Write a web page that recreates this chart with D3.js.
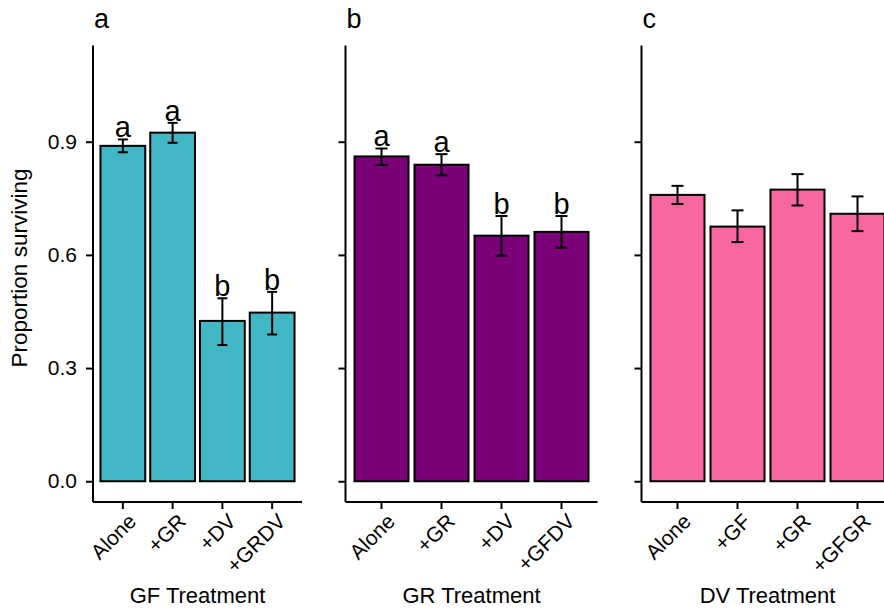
<!DOCTYPE html>
<html>
<head>
<meta charset="utf-8">
<script src="https://cdn.jsdelivr.net/npm/d3@7"></script>
<style>
  html, body { margin: 0; padding: 0; background: #fff; }
  svg { display: block; }
  text { font-family: "Liberation Sans", Arial, Helvetica, sans-serif; fill: #000; }
</style>
</head>
<body>
<svg id="chart" width="884" height="609"></svg>
<script>
// ---- data ----
const panelLabels = ["a", "b", "c"];
const xTitles = ["GF Treatment", "GR Treatment", "DV Treatment"];
const yTitle = "Proportion surviving";
const yTicks = [0, 0.3, 0.6, 0.9];

const catsA = ["Alone", "+GR", "+DV", "+GRDV"];
const meanA = [0.889, 0.924, 0.425, 0.447];
const lowerA = [0.872, 0.897, 0.361, 0.389];
const upperA = [0.906, 0.950, 0.485, 0.502];
const lettersA = ["a", "a", "b", "b"];

const catsB = ["Alone", "+GR", "+DV", "+GFDV"];
const meanB = [0.861, 0.839, 0.651, 0.661];
const lowerB = [0.838, 0.811, 0.598, 0.619];
const upperB = [0.882, 0.867, 0.703, 0.703];
const lettersB = ["a", "a", "b", "b"];

const catsC = ["Alone", "+GF", "+GR", "+GFGR"];
const meanC = [0.759, 0.675, 0.773, 0.709];
const lowerC = [0.735, 0.634, 0.731, 0.663];
const upperC = [0.783, 0.718, 0.814, 0.755];
const lettersC = ["", "", "", ""];

const fills = ["#41B6C4", "#7A0177", "#F768A1"];

// ---- layout ----
const panels = [
  { cats: catsA, mean: meanA, lower: lowerA, upper: upperA, letters: lettersA, x0: 93, x1: 302, showYLabels: true },
  { cats: catsB, mean: meanB, lower: lowerB, upper: upperB, letters: lettersB, x0: 345.5, x1: 597.5, showYLabels: false },
  { cats: catsC, mean: meanC, lower: lowerC, upper: upperC, letters: lettersC, x0: 641.5, x1: 893.5, showYLabels: false }
];

const yTop = 45.5, yBottom = 502;
const y = d3.scaleLinear().domain([-0.055, 1.155]).range([yBottom, yTop]);

const svg = d3.select("#chart");

panels.forEach((p, i) => {
  const x = d3.scaleBand().domain(p.cats).range([p.x0, p.x1])
    .paddingInner(0.1).paddingOuter(0.15);
  const step = x.step();
  const g = svg.append("g");
  const rows = p.cats.map((c, j) => ({ c, m: p.mean[j], lo: p.lower[j], hi: p.upper[j], l: p.letters[j] }));

  // bars
  g.selectAll("rect.bar").data(rows).enter().append("rect")
    .attr("x", d => x(d.c))
    .attr("width", x.bandwidth())
    .attr("y", d => y(d.m))
    .attr("height", d => y(0) - y(d.m))
    .attr("fill", fills[i])
    .attr("stroke", "#000")
    .attr("stroke-width", 2);

  // error bars
  const cx = d => x(d.c) + x.bandwidth() / 2;
  const capW = step * 0.2;
  const eb = g.selectAll("g.eb").data(rows).enter().append("g")
    .attr("stroke", "#000").attr("stroke-width", 2).attr("fill", "none");
  eb.append("line").attr("x1", cx).attr("x2", cx).attr("y1", d => y(d.lo)).attr("y2", d => y(d.hi));
  eb.append("line").attr("x1", d => cx(d) - capW / 2).attr("x2", d => cx(d) + capW / 2)
    .attr("y1", d => y(d.hi)).attr("y2", d => y(d.hi));
  eb.append("line").attr("x1", d => cx(d) - capW / 2).attr("x2", d => cx(d) + capW / 2)
    .attr("y1", d => y(d.lo)).attr("y2", d => y(d.lo));

  // significance letters
  g.selectAll("text.sig").data(rows.filter(d => d.l)).enter().append("text")
    .attr("x", cx)
    .attr("y", d => y(d.hi) - 2)
    .attr("text-anchor", "middle")
    .style("font-size", "29px")
    .text(d => d.l);

  // y axis
  const yAxis = d3.axisLeft(y).tickValues(yTicks).tickSize(7).tickPadding(9)
    .tickFormat(p.showYLabels ? d3.format(".1f") : () => "");
  const ya = g.append("g").attr("transform", `translate(${p.x0},0)`).call(yAxis);
  ya.select(".domain").attr("d", `M0,${yTop}V${yBottom}`).attr("stroke-width", 2).attr("stroke", "#000");
  ya.selectAll(".tick line").attr("stroke-width", 2).attr("stroke", "#000");
  ya.selectAll(".tick text").style("font-size", "21px").attr("fill", "#000")
    .style("font-family", '"Liberation Sans", Arial, sans-serif');

  // x axis
  const xAxis = d3.axisBottom(x).tickSize(7).tickFormat(() => "");
  const xa = g.append("g").attr("transform", `translate(0,${yBottom})`).call(xAxis);
  xa.select(".domain").attr("d", `M${p.x0},0H${p.x1}`).attr("stroke-width", 2).attr("stroke", "#000");
  xa.selectAll(".tick line").attr("stroke-width", 2).attr("stroke", "#000");

  // rotated x tick labels
  g.selectAll("text.xl").data(p.cats).enter().append("text")
    .attr("transform", d => `translate(${x(d) + x.bandwidth() / 2 + 4},${yBottom + 10}) rotate(-45)`)
    .attr("text-anchor", "end")
    .attr("dy", "0.72em")
    .style("font-size", "21px")
    .text(d => d);

  // x title
  g.append("text")
    .attr("x", (p.x0 + p.x1) / 2)
    .attr("y", 603)
    .attr("text-anchor", "middle")
    .style("font-size", "22px")
    .text(xTitles[i]);

  // panel label
  g.append("text")
    .attr("x", p.x0 + 1)
    .attr("y", 28)
    .style("font-size", "27px")
    .text(panelLabels[i]);
});

// y title
svg.append("text")
  .attr("transform", "translate(27,268) rotate(-90)")
  .attr("text-anchor", "middle")
  .style("font-size", "22.5px")
  .text(yTitle);
</script>
</body>
</html>
